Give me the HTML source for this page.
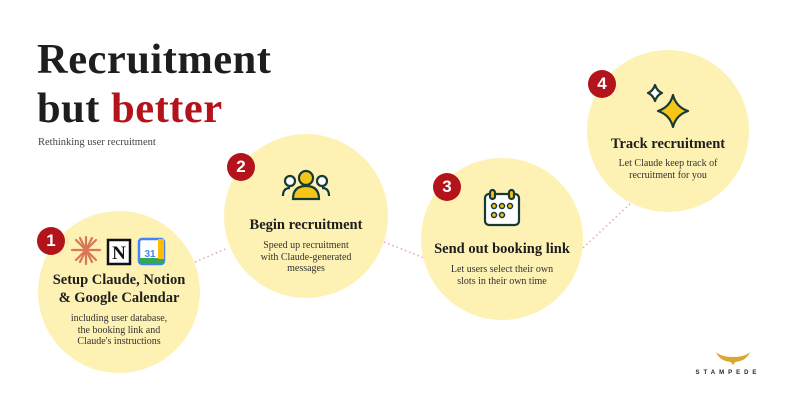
<!DOCTYPE html>
<html><head><meta charset="utf-8"><style>
body{margin:0;width:790px;height:406px;background:#fff;position:relative;overflow:hidden;font-family:"Liberation Serif",serif;color:#1e1e1e}
.t{position:absolute;font-weight:bold;font-size:42.5px;left:37px;letter-spacing:0.5px;line-height:1}
.c{position:absolute;border-radius:50%;background:#fdf1b3}
.b{position:absolute;width:28px;height:28px;border-radius:50%;background:#b3141b;color:#fff;font-weight:bold;font-size:17px;text-align:center;line-height:28px;font-family:"Liberation Sans",sans-serif}
.h{position:absolute;font-weight:bold;font-size:14.5px;text-align:center;width:200px;line-height:18px}
.s{position:absolute;font-size:10px;text-align:center;width:200px;line-height:11.5px;color:#333}
</style></head><body>
<svg width="790" height="406" style="position:absolute;left:0;top:0">
<g stroke="#e8a9a9" stroke-width="1.5" stroke-dasharray="1.5 3" fill="none">
<line x1="195" y1="262" x2="228" y2="248"/>
<line x1="384" y1="242" x2="424" y2="258"/>
<line x1="583" y1="248" x2="632" y2="202"/>
</g></svg>
<div class="c" style="left:38px;top:211px;width:162px;height:162px"></div>
<div class="c" style="left:224px;top:134px;width:164px;height:164px"></div>
<div class="c" style="left:421px;top:158px;width:162px;height:162px"></div>
<div class="c" style="left:587px;top:50px;width:162px;height:162px"></div>

<div class="t" style="top:39px">Recruitment</div>
<div class="t" style="top:88px">but <span style="color:#b3141b">better</span></div>
<div style="position:absolute;left:38px;top:137px;font-size:10.5px;color:#444">Rethinking user recruitment</div>

<div class="b" style="left:37px;top:227px">1</div>
<div class="b" style="left:227px;top:153px">2</div>
<div class="b" style="left:433px;top:173px">3</div>
<div class="b" style="left:588px;top:70px">4</div>

<svg width="790" height="406" style="position:absolute;left:0;top:0">
<g stroke="#d9775a" stroke-width="2.2" stroke-linecap="round">
<line x1="86" y1="237" x2="86" y2="264"/><line x1="72" y1="250" x2="100" y2="250"/>
<line x1="76" y1="240" x2="96" y2="260"/><line x1="96" y1="240" x2="76" y2="260"/>
<line x1="80" y1="238" x2="92" y2="262"/><line x1="92" y1="238" x2="80" y2="262"/>
</g>
<rect x="108" y="240" width="22" height="24" fill="#fff" stroke="#111" stroke-width="2.5"/>
<text x="119" y="259" font-family="Liberation Serif" font-weight="bold" font-size="19" text-anchor="middle" fill="#111">N</text>
<rect x="139" y="239" width="25" height="25" rx="3" fill="#fff" stroke="#4285f4" stroke-width="2.5"/>
<rect x="139" y="258" width="25" height="6" fill="#34a853"/><rect x="158" y="239" width="6" height="20" fill="#fbbc04"/>
<text x="150" y="257" font-family="Liberation Sans" font-weight="bold" font-size="10" text-anchor="middle" fill="#4285f4">31</text>
<g stroke="#173a35" stroke-width="2.2" fill="#fff">
<circle cx="290" cy="181" r="5"/><path d="M283 196 q0-8 7-8"/>
<circle cx="322" cy="181" r="5"/><path d="M329 196 q0-8 -7-8"/>
<circle cx="306" cy="178" r="7" fill="#f5c518"/><path d="M293 199 q0-13 13-13 q13 0 13 13 z" fill="#f5c518"/>
</g>
<g stroke="#173a35" stroke-width="2.2">
<rect x="485" y="194" width="34" height="31" rx="4" fill="#fff"/>
<rect x="490" y="190" width="5" height="9" rx="2.5" fill="#f5c518"/><rect x="509" y="190" width="5" height="9" rx="2.5" fill="#f5c518"/>
<g fill="#f5c518" stroke-width="1.5"><circle cx="494" cy="206" r="2.5"/><circle cx="502" cy="206" r="2.5"/><circle cx="510" cy="206" r="2.5"/><circle cx="494" cy="215" r="2.5"/><circle cx="502" cy="215" r="2.5"/></g>
</g>
<g stroke="#173a35" stroke-width="2.2" stroke-linejoin="round">
<path d="M655 85 q2 6 7 8 q-5 2-7 8 q-2-6-7-8 q5-2 7-8z" fill="#fff"/>
<path d="M673 95 q3 12 15 16 q-12 4-15 16 q-3-12-15-16 q12-4 15-16z" fill="#f5c518"/>
</g>
<path d="M716 352 q4 10 17 10 q13 0 17-10 q-5 5-17 5 q-12 0-17-5z" fill="#d9a732"/>
<path d="M729 360 l4 5 l4-5z" fill="#d9a732"/>
<text x="728" y="374" font-family="Liberation Sans" font-weight="bold" font-size="6" letter-spacing="4" text-anchor="middle" fill="#223">STAMPEDE</text>
</svg>

<div class="h" style="left:19px;top:271px">Setup Claude, Notion<br>&amp; Google Calendar</div>
<div class="s" style="left:19px;top:313px">including user database,<br>the booking link and<br>Claude's instructions</div>
<div class="h" style="left:206px;top:216px">Begin recruitment</div>
<div class="s" style="left:206px;top:240px">Speed up recruitment<br>with Claude-generated<br>messages</div>
<div class="h" style="left:402px;top:240px">Send out booking link</div>
<div class="s" style="left:402px;top:264px">Let users select their own<br>slots in their own time</div>
<div class="h" style="left:568px;top:135px">Track recruitment</div>
<div class="s" style="left:568px;top:158px">Let Claude keep track of<br>recruitment for you</div>
</body></html>
